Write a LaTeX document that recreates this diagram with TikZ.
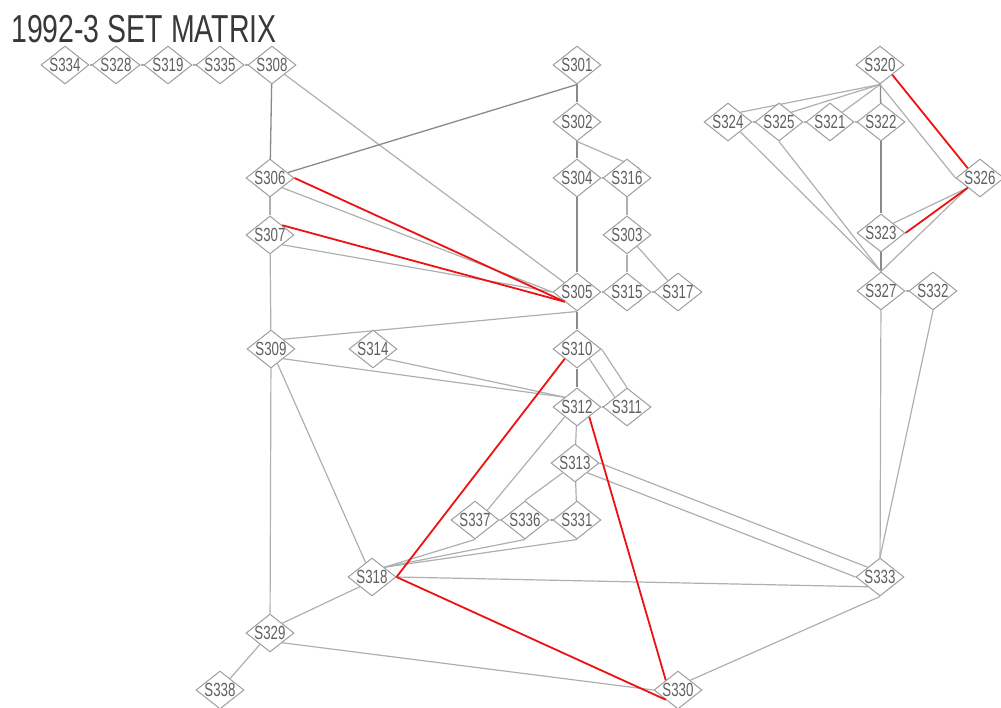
\documentclass[tikz,border=0pt]{standalone}
\usepackage{graphicx}
\usepackage{fontspec}
\setmainfont{Liberation Sans}
\usetikzlibrary{shapes.geometric,calc}
\pgfdeclarelayer{bg}
\pgfsetlayers{bg,main}
\definecolor{diaborder}{HTML}{9E9E9E}
\definecolor{labgrey}{HTML}{606060}
\definecolor{linegrey}{HTML}{AFAFAF}
\definecolor{linedark}{HTML}{8A8A8A}
\definecolor{hotred}{HTML}{EE1111}
\definecolor{titlegrey}{HTML}{383838}
\newcommand\nodelab[1]{\makebox[0pt]{\scalebox{0.7}[1]{#1}}}
\begin{document}
\begin{tikzpicture}[x=1pt,y=-1pt,
  dia/.style={shape=diamond, draw=diaborder, line width=1pt, fill=white,
    minimum width=48pt, minimum height=38pt, inner sep=0pt, text=labgrey,
    font=\fontsize{19}{19}\selectfont},
  ln/.style={draw=linegrey, line width=1.2pt},
  lnd/.style={draw=linedark, line width=1.3pt},
  hot/.style={draw=hotred, line width=1.8pt}]
\useasboundingbox (0,0) rectangle (1001,708);

% title
\node[anchor=base west, inner sep=0pt, text=titlegrey,
      font=\fontsize{39}{39}\selectfont] (title) at (11,43)
      {\scalebox{0.73}[1]{1992-3 SET MATRIX}};

% set nodes
\node[dia] (S334) at (65,65)  {\nodelab{S334}};
\node[dia] (S328) at (116,65) {\nodelab{S328}};
\node[dia] (S319) at (168,65) {\nodelab{S319}};
\node[dia] (S335) at (220,65) {\nodelab{S335}};
\node[dia] (S308) at (272,65) {\nodelab{S308}};
\node[dia] (S301) at (577,65) {\nodelab{S301}};
\node[dia] (S320) at (880,65) {\nodelab{S320}};

\node[dia] (S302) at (577,122) {\nodelab{S302}};
\node[dia] (S324) at (728,122) {\nodelab{S324}};
\node[dia] (S325) at (779,122) {\nodelab{S325}};
\node[dia] (S321) at (830,122) {\nodelab{S321}};
\node[dia] (S322) at (881,122) {\nodelab{S322}};

\node[dia] (S306) at (270,178) {\nodelab{S306}};
\node[dia] (S304) at (577,178) {\nodelab{S304}};
\node[dia] (S316) at (627,178) {\nodelab{S316}};
\node[dia] (S326) at (980,178) {\nodelab{S326}};

\node[dia] (S307) at (270,235) {\nodelab{S307}};
\node[dia] (S303) at (627,235) {\nodelab{S303}};
\node[dia] (S323) at (881,233) {\nodelab{S323}};

\node[dia] (S305) at (577,292) {\nodelab{S305}};
\node[dia] (S315) at (627,292) {\nodelab{S315}};
\node[dia] (S317) at (678,292) {\nodelab{S317}};
\node[dia] (S327) at (881,291) {\nodelab{S327}};
\node[dia] (S332) at (933,291) {\nodelab{S332}};

\node[dia] (S309) at (271,349) {\nodelab{S309}};
\node[dia] (S314) at (373,349) {\nodelab{S314}};
\node[dia] (S310) at (577,349) {\nodelab{S310}};

\node[dia] (S312) at (577,407) {\nodelab{S312}};
\node[dia] (S311) at (627,407) {\nodelab{S311}};

\node[dia] (S313) at (575,463) {\nodelab{S313}};

\node[dia] (S337) at (475,520) {\nodelab{S337}};
\node[dia] (S336) at (525,520) {\nodelab{S336}};
\node[dia] (S331) at (577,520) {\nodelab{S331}};

\node[dia] (S318) at (372,577) {\nodelab{S318}};
\node[dia] (S333) at (880,577) {\nodelab{S333}};

\node[dia] (S329) at (270,633) {\nodelab{S329}};

\node[dia] (S338) at (220,690) {\nodelab{S338}};
\node[dia] (S330) at (678,690) {\nodelab{S330}};

% grey links, under the nodes
\begin{pgfonlayer}{bg}
  % top row chain
  \draw[ln] (S334) -- (S328);
  \draw[ln] (S328) -- (S319);
  \draw[ln] (S319) -- (S335);
  \draw[ln] (S335) -- (S308);
  % left column
  \draw[lnd] (S308) -- (S306);
  \draw[ln]  (S308) -- (S305);
  \draw[ln]  (S306) -- (S307);
  \draw[ln]  (S307) -- (S309);
  \draw[ln]  (S306.south east) -- (S305.west);
  \draw[ln]  (S307.south east) -- (S305.west);
  \draw[ln]  (S309.north east) -- (S305.south);
  \draw[ln]  (S309) -- (S318);
  \draw[ln]  (S309) -- (S329);
  \draw[ln]  (S309.south east) -- (S312.north west);
  \draw[ln]  (S314.south east) -- (S312.north west);
  % centre column
  \draw[lnd] (S301.south) -- (S306);
  \draw[lnd] (S301) -- (S302);
  \draw[lnd] (S302) -- (S304);
  \draw[ln]  (S302.south) -- (S316.north east);
  \draw[ln]  (S304) -- (S316);
  \draw[lnd] (S304) -- (S305);
  \draw[ln]  (S316) -- (S303);
  \draw[ln]  (S303) -- (S315);
  \draw[ln]  (S303) -- (S317);
  \draw[ln]  (S305) -- (S315);
  \draw[ln]  (S315) -- (S317);
  \draw[lnd] (S305) -- (S310);
  \draw[lnd] (S310) -- (S312);
  \draw[ln]  (S310.east) -- (S311.north);
  \draw[ln]  (S310.south east) -- (S311.north west);
  \draw[ln]  (S312) -- (S311);
  \draw[ln]  (S312) -- (S313);
  \draw[ln]  (S313) -- (S331);
  \draw[ln]  (S312.south west) -- (S337.north east);
  \draw[ln]  (S313.south west) -- (S336.north);
  \draw[ln]  (S337) -- (S336);
  \draw[ln]  (S336) -- (S331);
  % lower part
  \draw[ln]  (S318.north east) -- (S337.south);
  \draw[ln]  (S318.north east) -- (S336.south);
  \draw[ln]  (S318.north east) -- (S331.south);
  \draw[ln]  (S318.east) -- (S333.south west);
  \draw[ln]  (S313.east) -- (S333.north west);
  \draw[ln]  (S313.south east) -- (S333.west);
  \draw[ln]  (S318.south west) -- (S329.north east);
  \draw[ln]  (S329) -- (S338);
  \draw[ln]  (S329.south east) -- (S330.west);
  \draw[ln]  (S330.north east) -- (S333.south);
  \draw[ln]  (S327) -- (S333);
  \draw[ln]  (S332.south) -- (S333.north);
  % right cluster
  \draw[ln]  (S320.south) -- (S324.north east);
  \draw[ln]  (S320.south) -- (S325.north east);
  \draw[ln]  (S320.south) -- (S321.north east);
  \draw[lnd] (S320) -- (S322);
  \draw[ln]  (S324) -- (S325);
  \draw[ln]  (S325) -- (S321);
  \draw[ln]  (S321) -- (S322);
  \draw[lnd] (S322) -- (S323);
  \draw[lnd] (S323) -- (S327);
  \draw[ln]  (S327) -- (S332);
  \draw[ln]  (S320.south) -- (S326.west);
  \draw[ln]  (S323.north east) -- (S326.south west);
  \draw[ln]  (S326.south west) -- (S327.north);
  \draw[ln]  (S324.south east) -- (S327.north);
  \draw[ln]  (S325.south) -- (S327.north);
\end{pgfonlayer}

% highlighted links, on top
\draw[hot] (S306.east) -- (S305.south west);
\draw[hot] (S307.north east) -- (S305.south west);
\draw[hot] (S310.south west) -- (S318.east);
\draw[hot] (S312.south east) -- (S330.north west);
\draw[hot] (S318.east) -- (S330.south west);
\draw[hot] (S320.south east) -- (S326.north west);
\draw[hot] (S326.south west) -- (S323.east);
\end{tikzpicture}
\end{document}
